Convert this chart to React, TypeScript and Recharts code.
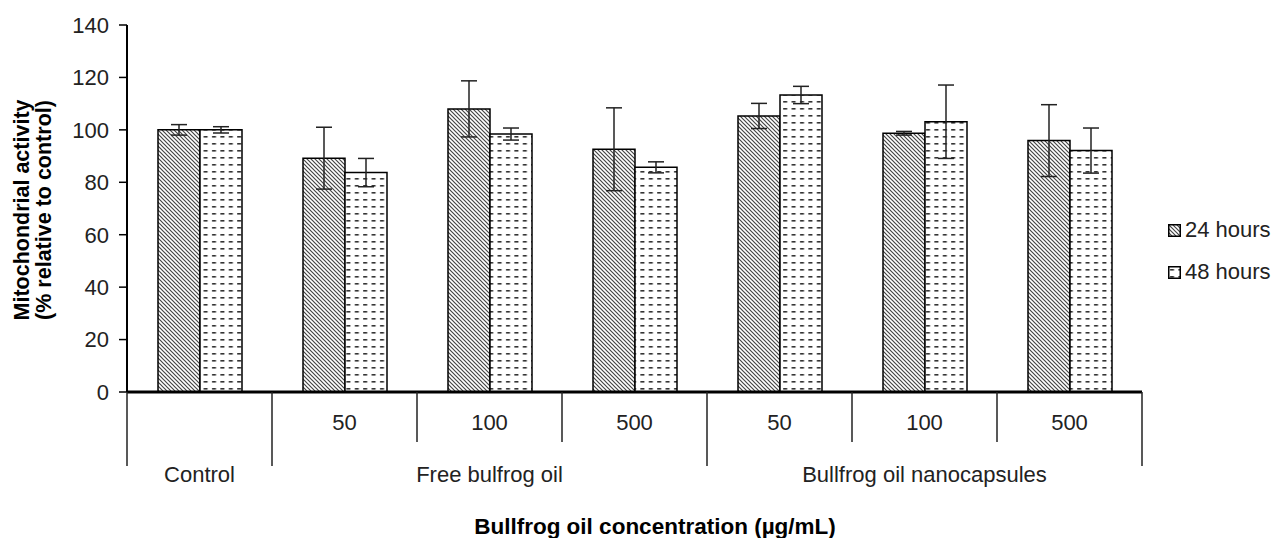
import { Bar, BarChart, ErrorBar, XAxis, YAxis } from "recharts";

const subLabels = ["", "50", "100", "500", "50", "100", "500"];
const groupLabels = [
  "Control",
  "Free bulfrog oil",
  "Free bulfrog oil",
  "Free bulfrog oil",
  "Bullfrog oil nanocapsules",
  "Bullfrog oil nanocapsules",
  "Bullfrog oil nanocapsules",
];
const hours24 = [100, 89.2, 108, 92.6, 105.3, 98.7, 95.9];
const hours48 = [100, 83.7, 98.4, 85.7, 113.3, 103.1, 92.1];
const err24 = [2, 11.8, 10.7, 15.8, 4.8, 0.7, 13.7];
const err48 = [1.2, 5.4, 2.3, 2.1, 3.3, 14, 8.6];
const yTicks = [0, 20, 40, 60, 80, 100, 120, 140];

const data = subLabels.map((s, i) => ({
  key: `${i}`,
  sub: s,
  group: groupLabels[i],
  h24: hours24[i],
  h48: hours48[i],
  e24: err24[i],
  e48: err48[i],
}));

const W = 1277;
const H = 538;
const LEFT = 127;
const RIGHT = 135;
const TOP = 25;
const BAND = (W - LEFT - RIGHT) / data.length;
const FONT = "'Liberation Sans', Arial, sans-serif";
const INK = "#222";
const FS = 22;

// middle category of each group carries the group label
const groupMid: Record<string, number> = {};
groupLabels.forEach((g) => {
  const idx = groupLabels.map((x, i) => (x === g ? i : -1)).filter((i) => i >= 0);
  groupMid[g] = idx[Math.floor(idx.length / 2)];
});

function Patterns({ suffix = "" }: { suffix?: string }) {
  return (
    <defs>
      <pattern id={`hatch${suffix}`} patternUnits="userSpaceOnUse" width="4" height="4">
        <rect width="4" height="4" fill="#fff" />
        <path d="M-1,-1 L5,5 M-1,3 L1,5 M3,-1 L5,1" stroke="#444" strokeWidth="1.2" />
      </pattern>
      <pattern id={`dash${suffix}`} patternUnits="userSpaceOnUse" width="8.4" height="7">
        <rect width="8.4" height="7" fill="#fff" />
        <rect x="2" y="3" width="4" height="1.6" fill="#333" />
      </pattern>
    </defs>
  );
}

function CatTick(props: any) {
  const { x, y, index } = props;
  const d = data[index];
  const left = x - BAND / 2;
  const groupStart = index === 0 || data[index - 1].group !== d.group;
  const isLast = index === data.length - 1;
  return (
    <g>
      <line x1={left} x2={left} y1={y} y2={y + (groupStart ? 74 : 50)} stroke={INK} strokeWidth={1.5} />
      {isLast && (
        <line x1={left + BAND} x2={left + BAND} y1={y} y2={y + 74} stroke={INK} strokeWidth={1.5} />
      )}
      {d.sub && (
        <text x={x} y={y + 38} textAnchor="middle" fontSize={FS} fontFamily={FONT} fill={INK}>
          {d.sub}
        </text>
      )}
      {groupMid[d.group] === index && (
        <text x={x} y={y + 90} textAnchor="middle" fontSize={FS} fontFamily={FONT} fill={INK}>
          {d.group}
        </text>
      )}
    </g>
  );
}

function YTitle() {
  return (
    <g fontFamily={FONT} fontSize={21.5} fontWeight="bold" fill="#000" textAnchor="middle">
      <text transform="translate(29,210) rotate(-90)">Mitochondrial activity</text>
      <text transform="translate(51,210) rotate(-90)">(% relative to control)</text>
    </g>
  );
}

function XTitle() {
  return (
    <text x={655} y={534} textAnchor="middle" fontFamily={FONT} fontSize={22.5} fontWeight="bold" fill="#000">
      Bullfrog oil concentration (µg/mL)
    </text>
  );
}

function LegendItem({ fill, label }: { fill: string; label: string }) {
  return (
    <div style={{ display: "flex", alignItems: "center", height: 42 }}>
      <svg width={13} height={13} style={{ marginRight: 4 }}>
        <Patterns suffix="L" />
        <rect x={0.75} y={0.75} width={11.5} height={11.5} fill={`url(#${fill}L)`} stroke="#000" strokeWidth={1.5} />
      </svg>
      <span>{label}</span>
    </div>
  );
}

export default function App() {
  return (
    <div style={{ position: "absolute", left: 0, top: 0, width: W, height: H, background: "#fff" }}>
      <BarChart
        width={W}
        height={H}
        data={data}
        margin={{ top: TOP, right: RIGHT, left: 0, bottom: 0 }}
        barGap={0}
        barSize={42}
      >
        <Patterns />
        <XAxis
          dataKey="key"
          height={H - 392}
          tick={<CatTick />}
          tickLine={false}
          tickSize={0}
          tickMargin={0}
          interval={0}
          axisLine={{ stroke: "#000", strokeWidth: 3 }}
          label={{ content: () => <XTitle /> }}
        />
        <YAxis
          width={LEFT}
          domain={[0, 140]}
          ticks={yTicks}
          interval={0}
          tickSize={8}
          tickMargin={10}
          tick={{ fill: INK, fontSize: FS, fontFamily: FONT }}
          tickLine={{ stroke: "#000", strokeWidth: 1.5 }}
          axisLine={{ stroke: "#000", strokeWidth: 2 }}
          label={{ content: () => <YTitle /> }}
        />
        <Bar dataKey="h24" fill="url(#hatch)" stroke="#000" strokeWidth={1.5} isAnimationActive={false}>
          <ErrorBar dataKey="e24" width={8} stroke={INK} strokeWidth={1.5} />
        </Bar>
        <Bar dataKey="h48" fill="url(#dash)" stroke="#000" strokeWidth={1.5} isAnimationActive={false}>
          <ErrorBar dataKey="e48" width={8} stroke={INK} strokeWidth={1.5} />
        </Bar>
      </BarChart>
      <div
        style={{
          position: "absolute",
          left: 1168,
          top: 209,
          fontFamily: FONT,
          fontSize: FS,
          color: INK,
        }}
      >
        <LegendItem fill="hatch" label="24 hours" />
        <LegendItem fill="dash" label="48 hours" />
      </div>
    </div>
  );
}
